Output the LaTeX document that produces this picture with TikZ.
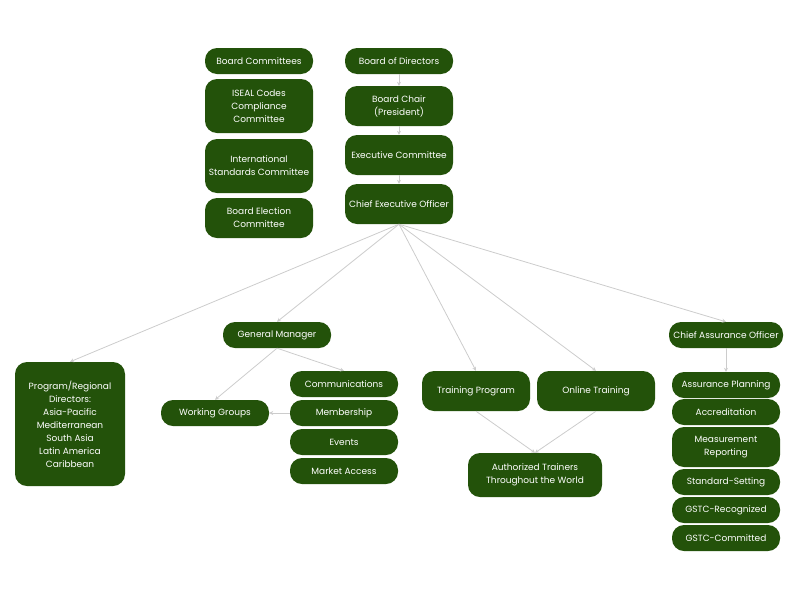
\documentclass[tikz,border=0pt]{standalone}
\usepackage{fontspec}
\setmainfont{Poppins}
\usetikzlibrary{arrows.meta}
\definecolor{bx}{HTML}{23520A}
\definecolor{ln}{HTML}{CCCCCC}
\begin{document}
\begin{tikzpicture}[x=1pt,y=-1pt,
  bx/.style={draw=none,fill=bx,text=white,rounded corners=12pt,align=center,inner sep=0pt,
    font=\fontsize{9}{13}\selectfont},
  ln/.style={draw=ln,line width=0.8pt,-{Stealth[length=4pt,width=4pt]}}]
\useasboundingbox (0,0) rectangle (800,600);
\def\B(#1,#2,#3,#4,#5)#6{\node[bx,minimum width=#3,minimum height=#4] (#5) at (#1,#2) {#6};}
\B(259,61,108,26,bc){Board Committees}
\B(259,106,108,54,is){ISEAL Codes\\Compliance\\Committee}
\B(259,166,108,54,isc){International\\Standards Committee}
\B(259,218,108,40,be){Board Election\\Committee}
\B(399,61,108,26,bd){Board of Directors}
\B(399,106,108,40,ch){Board Chair\\(President)}
\B(399,155,108,40,ex){Executive Committee}
\B(399,204,108,40,ceo){Chief Executive Officer}
\B(277,335,108,26,gm){General Manager}
\B(726,335,114,26,cao){Chief Assurance Officer}
\B(70,424,110,124,pr){Program/Regional\\Directors:\\Asia-Pacific\\Mediterranean\\South Asia\\Latin America\\Caribbean}
\B(215,413,108,26,wg){Working Groups}
\B(344,384,108,26,co){Communications}
\B(344,413,108,26,me){Membership}
\B(344,442,108,26,ev){Events}
\B(344,471,108,26,ma){Market Access}
\B(476,391,108,40,tp){Training Program}
\B(596,391,118,40,ot){Online Training}
\B(535,475,134,44,at){Authorized Trainers\\Throughout the World}
\B(726,385,108,26,ap){Assurance Planning}
\B(726,412,108,26,ac){Accreditation}
\B(726,447,108,40,mr){Measurement\\Reporting}
\B(726,482,108,26,ss){Standard-Setting}
\B(726,510,108,26,gr){GSTC-Recognized}
\B(726,538,108,26,gc){GSTC-Committed}
\draw[ln] (bd) -- (ch);
\draw[ln] (ch) -- (ex);
\draw[ln] (ex) -- (ceo);
\foreach \t in {pr,gm,tp,ot,cao} \draw[ln] (ceo.south) -- (\t.north);
\draw[ln] (gm.south) -- (co.north);
\draw[ln] (gm.south) -- (wg.north);
\draw[ln] (me) -- (wg);
\draw[ln] (tp.south) -- (at.north);
\draw[ln] (ot.south) -- (at.north);
\draw[ln] (cao) -- (ap);
\end{tikzpicture}
\end{document}
